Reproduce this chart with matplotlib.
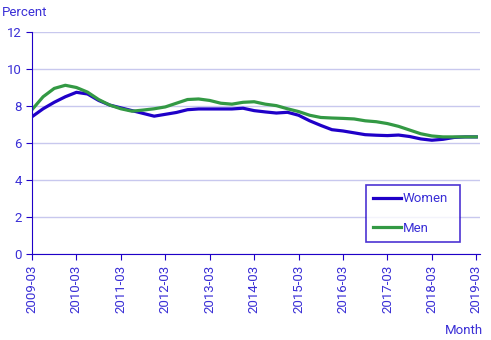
import numpy as np
import matplotlib.pyplot as plt

# quarterly readings, months since 2009-03
months = list(range(0, 121, 3))
women = [7.42, 7.85, 8.2, 8.5, 8.74, 8.65, 8.3, 8.05, 7.9, 7.75, 7.6,
         7.45, 7.55, 7.65, 7.8, 7.84, 7.84, 7.84, 7.84, 7.88, 7.75,
         7.68, 7.62, 7.66, 7.5, 7.2, 6.95, 6.72, 6.65, 6.55, 6.45,
         6.42, 6.4, 6.43, 6.35, 6.22, 6.15, 6.2, 6.3, 6.33, 6.33]
men = [7.8, 8.5, 8.95, 9.12, 9.0, 8.75, 8.35, 8.05, 7.85, 7.72, 7.78,
       7.85, 7.95, 8.15, 8.35, 8.38, 8.3, 8.15, 8.1, 8.2, 8.23,
       8.1, 8.02, 7.85, 7.7, 7.5, 7.38, 7.35, 7.33, 7.3, 7.2,
       7.15, 7.05, 6.9, 6.7, 6.5, 6.38, 6.33, 6.33, 6.33, 6.33]
tick_pos = list(range(0, 121, 12))
tick_labels = ['%d-03' % y for y in range(2009, 2020)]

blue = '#1f00c8'
green = '#339944'
txt = '#3a2fd6'

plt.rcParams['font.family'] = ['Roboto', 'DejaVu Sans']
fig = plt.figure(figsize=(4.91, 3.40), dpi=100)
ax = fig.add_axes([32/491, 1-254/340, 448/491, 222/340])

ax.plot(months, women, color=blue, lw=2.3, label='Women')
ax.plot(months, men, color=green, lw=2.3, label='Men')

ax.set_xlim(0, 121)
ax.set_ylim(0, 12)
ax.set_yticks(range(0, 13, 2))
ax.set_xticks(tick_pos)
ax.set_xticklabels(tick_labels, rotation=90)
ax.yaxis.grid(True, color='#c8c8ee', lw=1)
ax.set_axisbelow(True)
for s in ['top', 'right']:
    ax.spines[s].set_visible(False)
for s in ['left', 'bottom']:
    ax.spines[s].set_color(blue)
ax.tick_params(colors=blue, labelcolor=txt, labelsize=9.5, length=4)

fig.text(2/491, 1-12/340, 'Percent', color=txt, fontsize=9.5, va='center')
fig.text(483/491, 1-330/340, 'Month', color=txt, fontsize=9.5, ha='right', va='center')

leg = ax.legend(loc='lower left', bbox_to_anchor=(334/448, 12/222, 94/448, 53/222),
                mode='expand', fancybox=False, fontsize=9.5, handlelength=2.1,
                borderpad=0.55, labelspacing=1.25, handletextpad=0.15,
                borderaxespad=0)
leg.get_frame().set_edgecolor(blue)
leg.get_frame().set_linewidth(1.2)
for t in leg.get_texts():
    t.set_color(txt)

fig.savefig('out.png', dpi=100)
